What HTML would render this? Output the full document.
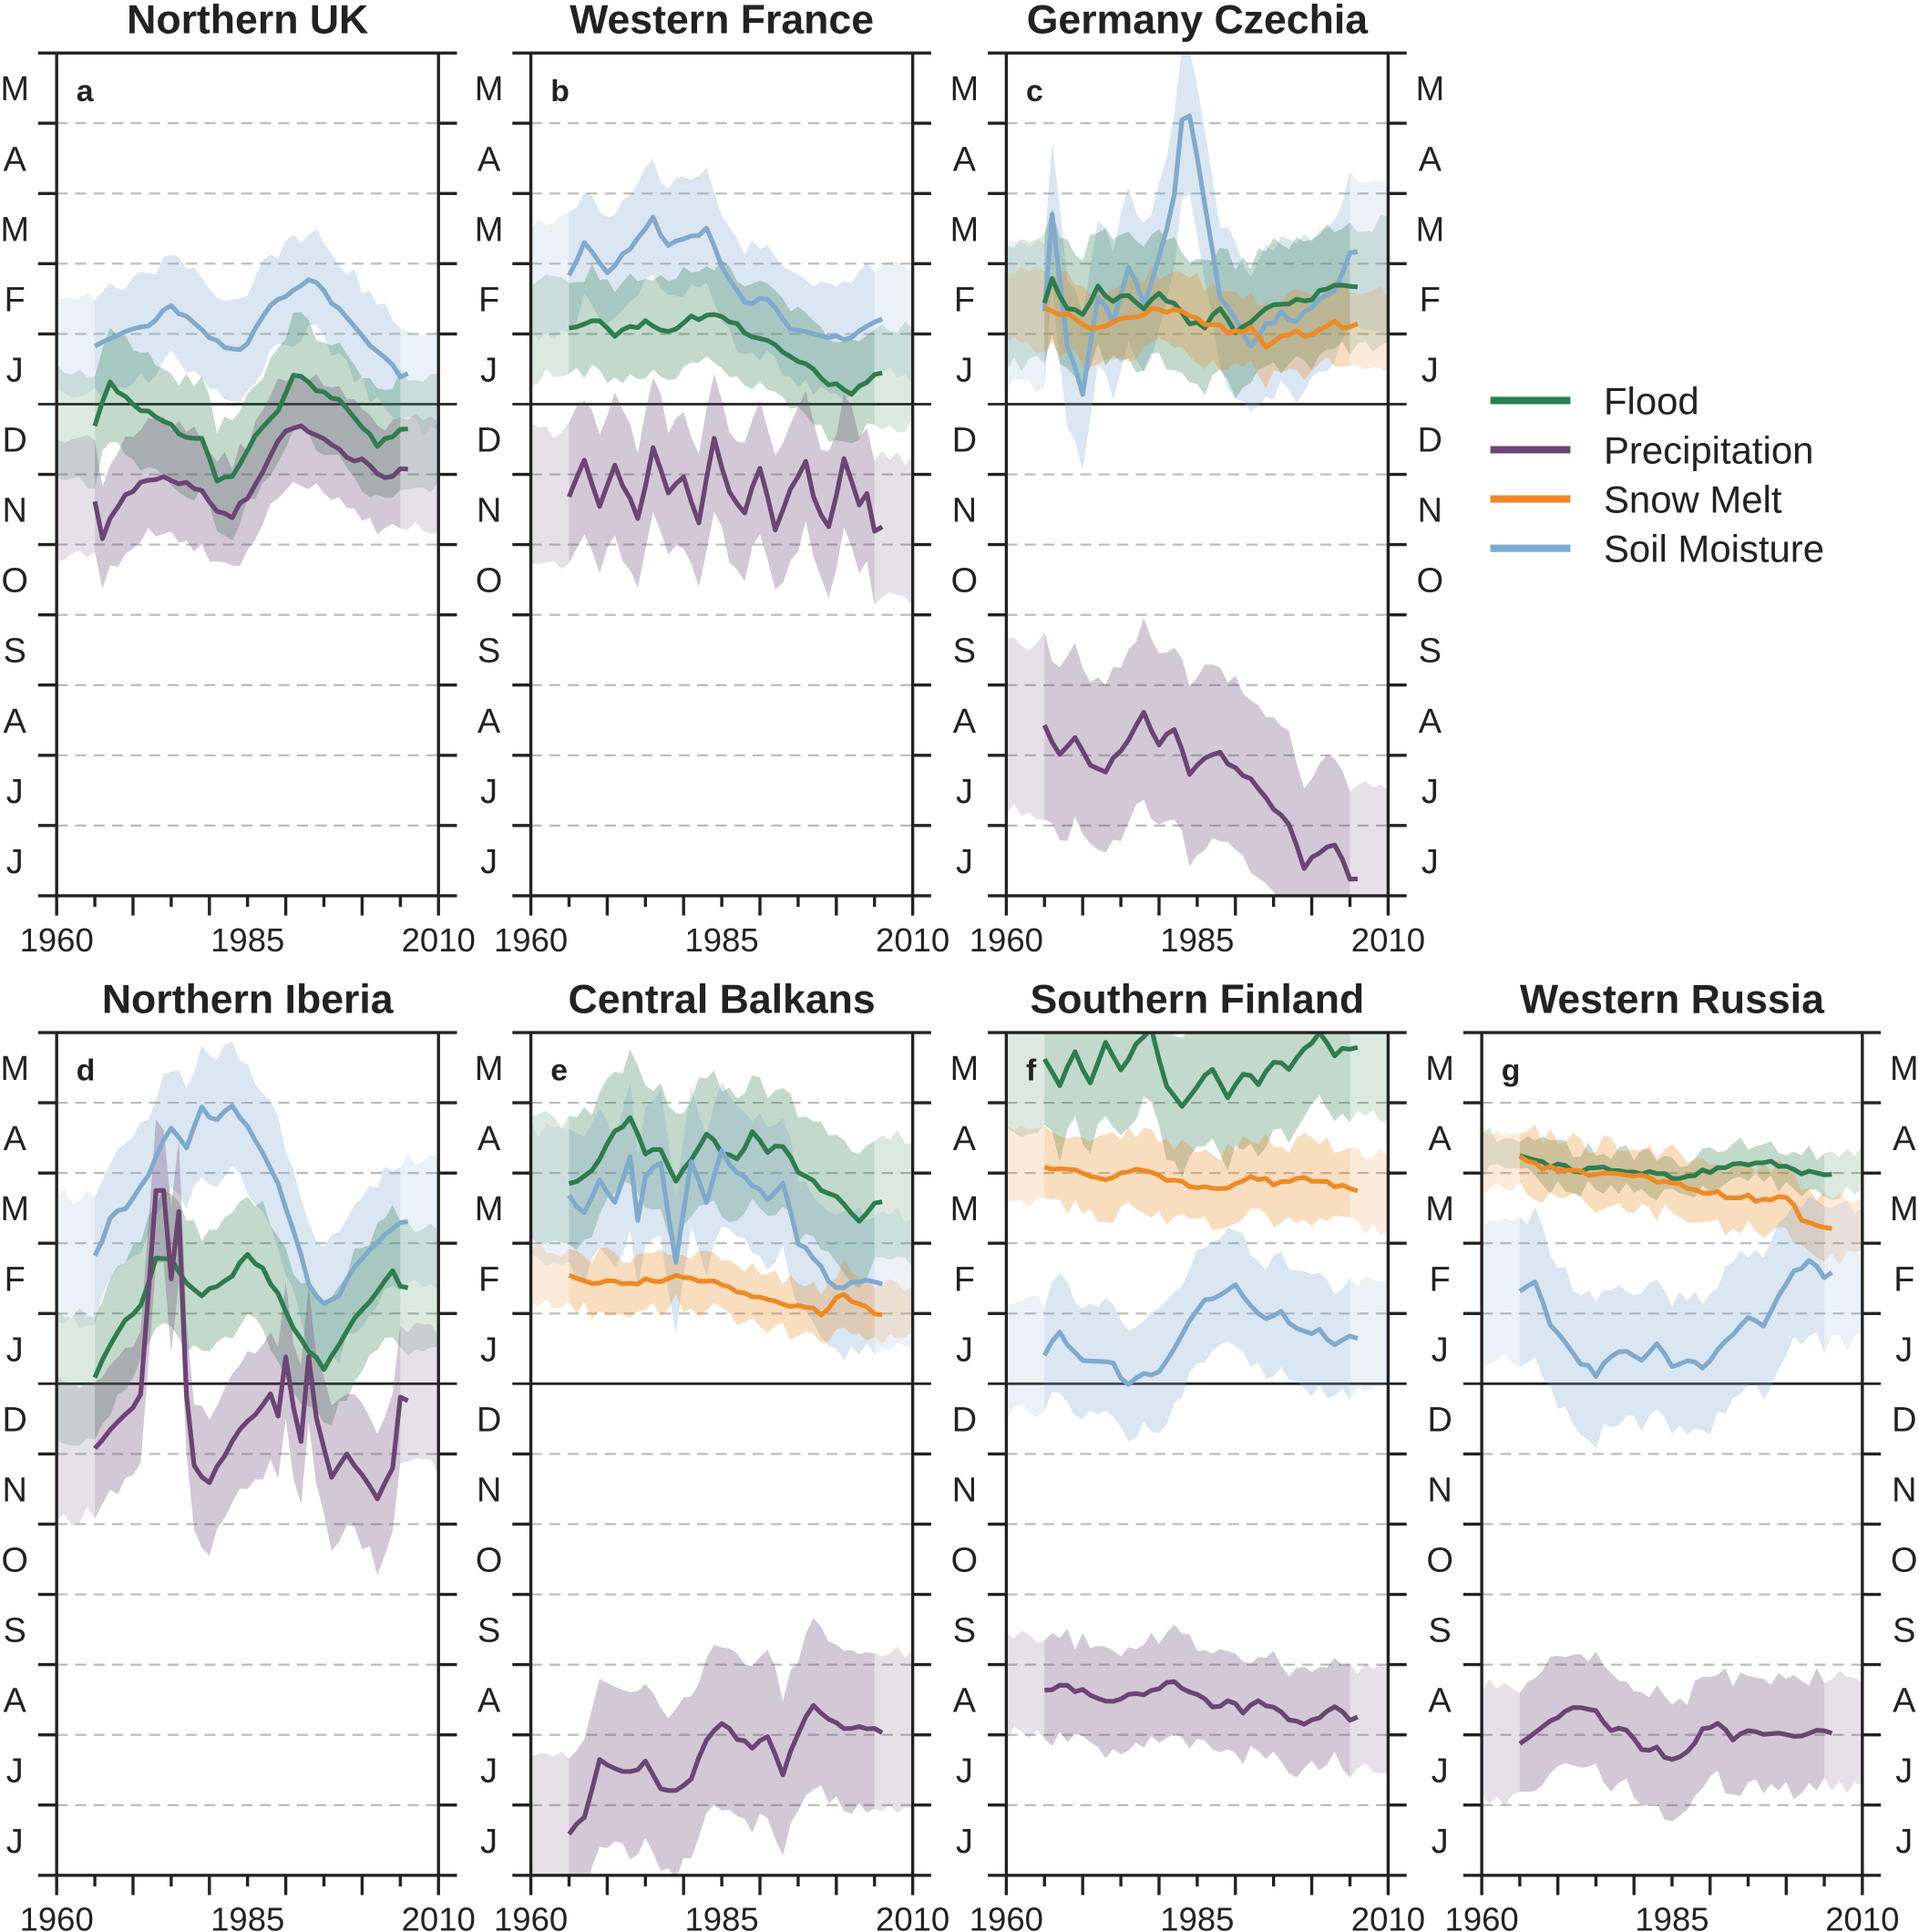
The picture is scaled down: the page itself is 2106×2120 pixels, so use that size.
<!DOCTYPE html>
<html><head><meta charset="utf-8"><style>
html,body{margin:0;padding:0;background:#fff}
svg{display:block}
text{font-family:"Liberation Sans",Arial,sans-serif;fill:#222}
</style></head><body>
<svg id="s" xmlns="http://www.w3.org/2000/svg" width="2106" height="2120" viewBox="0 0 1558 1568" preserveAspectRatio="none"></svg>
<script>
const S=document.getElementById('s');let h='';
const L=[46,431,817,1203],R=[356,741,1127,1512],T=[43,838],B=[727,1522];
const months=['M','A','M','F','J','D','N','O','S','A','J','J'];
const C={g:'#2e7d4f',p:'#6b4574',o:'#ee8a25',b:'#80aacd'};
let seed=7;function rnd(){seed=(seed*16807)%2147483647;return seed/2147483647-0.5;}
function interp(pts,yr){for(let i=0;i<pts.length-1;i++){if(yr<=pts[i+1][0]){const t=(yr-pts[i][0])/(pts[i+1][0]-pts[i][0]);return pts[i][1]+t*(pts[i+1][1]-pts[i][1]);}}return pts[pts.length-1][1];}
function panel(c,r,title,letter,rightLabels,series){
 const l=L[c],rr=R[c],t=T[r],b=B[r],bh=(b-t)/12;
 const X=y=>l+(y-1960)/50*(rr-l);
 h+=`<text x="${(l+rr)/2}" y="${t-16}" font-size="33" font-weight="bold" text-anchor="middle">${title}</text>`;
 h+=`<clipPath id="c${c}${r}"><rect x="${l}" y="${t}" width="${rr-l}" height="${b-t}"/></clipPath>`;
 for(let i=1;i<12;i++){const y=t+i*bh;
  if(i==5)h+=`<line x1="${l-15}" x2="${rr+15}" y1="${y}" y2="${y}" stroke="#222" stroke-width="2"/>`;
  else{h+=`<line x1="${l}" x2="${rr}" y1="${y}" y2="${y}" stroke="#bbb" stroke-width="1.6" stroke-dasharray="9,6"/>`;
  h+=`<line x1="${l-15}" x2="${l}" y1="${y}" y2="${y}" stroke="#222" stroke-width="2.5"/><line x1="${rr}" x2="${rr+15}" y1="${y}" y2="${y}" stroke="#222" stroke-width="2.5"/>`;}}
 let g=`<g clip-path="url(#c${c}${r})">`;
 for(const s of series){
  const [col,pts,bw]=s;const ys=[],up=[],dn=[];
  for(let y=1960;y<=2010;y++){const v=interp(pts,Math.min(Math.max(y,1965),2005))+rnd()*5;ys.push([X(y),v]);up.push([X(y),v-bw+rnd()*14]);dn.push([X(y),v+bw+rnd()*14]);}
  const poly=(a,bb)=>a.map(p=>p.join(',')).concat(bb.slice().reverse().map(p=>p.join(','))).join(' ');
  g+=`<polygon points="${poly(up,dn)}" fill="${C[col]}" opacity="0.17"/>`;
  g+=`<polygon points="${poly(up.slice(5,46),dn.slice(5,46))}" fill="${C[col]}" opacity="0.15"/>`;
  s.push(ys.slice(5,47));
 }
 for(const s of series){const col=s[0];const ys=s[3];
  g+=`<polyline points="${ys.map(p=>p[0].toFixed(1)+','+p[1].toFixed(1)).join(' ')}" fill="none" stroke="${C[col]}" stroke-width="3.8" stroke-linejoin="round"/>`;}
 g+='</g>';h+=g;
 h+=`<line x1="${l-15}" x2="${rr+15}" y1="${t}" y2="${t}" stroke="#222" stroke-width="2.5"/>`;
 h+=`<line x1="${l-15}" x2="${rr+15}" y1="${b}" y2="${b}" stroke="#222" stroke-width="2.5"/>`;
 h+=`<line x1="${l}" x2="${l}" y1="${t}" y2="${b+16}" stroke="#222" stroke-width="2.5"/><line x1="${rr}" x2="${rr}" y1="${t}" y2="${b+16}" stroke="#222" stroke-width="2.5"/>`;
 for(let y=1965;y<2010;y+=5){const x=X(y);h+=`<line x1="${x}" x2="${x}" y1="${b}" y2="${b+(y%10==0?16:9)}" stroke="#222" stroke-width="2.5"/>`;}
 for(const yr of [1960,1985,2010])h+=`<text x="${X(yr)}" y="${b+45}" font-size="27" text-anchor="middle">${yr}</text>`;
 months.forEach((m,i)=>{const y=t+(i+0.5)*bh+10;h+=`<text x="${l-34}" y="${y}" font-size="28" text-anchor="middle">${m}</text>`;
  if(rightLabels)h+=`<text x="${rr+34}" y="${y}" font-size="28" text-anchor="middle">${m}</text>`;});
 h+=`<text x="${l+16}" y="${t+39}" font-size="25" font-weight="bold">${letter}</text>`;
}
panel(0,0,'Northern UK','a',false,[
 ['b',[[1965,280],[1968,270],[1972,265],[1975,248],[1978,262],[1980,275],[1983,283],[1985,280],[1987,255],[1990,240],[1993,225],[1996,245],[1999,265],[2002,285],[2005,305]],40],
 ['g',[[1965,345],[1967,310],[1970,328],[1973,340],[1976,350],[1979,358],[1981,390],[1983,388],[1986,355],[1989,335],[1991,302],[1994,315],[1997,325],[2000,345],[2002,360],[2005,350]],45],
 ['p',[[1965,405],[1966,435],[1968,410],[1971,390],[1974,388],[1977,392],[1979,398],[1981,413],[1983,418],[1986,395],[1988,370],[1990,350],[1992,345],[1995,355],[1998,372],[2000,375],[2002,385],[2003,390],[2005,382]],45]]);
panel(1,0,'Western France','b',false,[
 ['b',[[1965,225],[1967,195],[1970,222],[1973,200],[1976,178],[1978,200],[1981,192],[1983,187],[1985,215],[1988,245],[1991,242],[1994,265],[1997,270],[2000,275],[2003,270],[2005,260]],45],
 ['g',[[1965,268],[1968,258],[1971,272],[1975,262],[1978,268],[1981,258],[1984,255],[1987,265],[1990,275],[1993,285],[1996,295],[1999,310],[2002,318],[2005,305]],40],
 ['p',[[1965,405],[1967,375],[1969,410],[1971,380],[1974,420],[1976,365],[1978,400],[1980,385],[1982,425],[1984,355],[1986,400],[1988,415],[1990,380],[1992,430],[1994,395],[1996,375],[1997,405],[1999,430],[2001,370],[2003,410],[2004,400],[2005,430]],55]]);
panel(2,0,'Germany Czechia','c',true,[
 ['b',[[1965,255],[1966,175],[1968,280],[1970,320],[1972,240],[1974,260],[1976,215],[1978,245],[1980,210],[1982,160],[1983,95],[1984,92],[1986,165],[1988,240],[1990,260],[1992,280],[1994,265],[1996,255],[1998,260],[2000,250],[2003,235],[2005,205]],60],
 ['g',[[1965,245],[1966,228],[1968,252],[1970,255],[1972,232],[1974,245],[1976,238],[1978,250],[1980,238],[1982,248],[1984,262],[1986,265],[1988,250],[1990,268],[1992,262],[1995,245],[1997,245],[2000,242],[2003,230],[2005,232]],50],
 ['o',[[1965,250],[1968,255],[1971,265],[1974,262],[1977,255],[1980,250],[1983,255],[1986,262],[1989,268],[1992,268],[1994,280],[1997,270],[2000,272],[2003,262],[2005,265]],30],
 ['p',[[1965,590],[1967,610],[1969,600],[1971,620],[1973,625],[1975,610],[1977,590],[1978,580],[1980,605],[1982,590],[1984,630],[1986,615],[1988,612],[1990,625],[1992,630],[1995,655],[1997,670],[1999,705],[2001,690],[2003,685],[2005,712]],70]]);
panel(0,1,'Northern Iberia','d',false,[
 ['b',[[1965,1020],[1967,990],[1969,980],[1971,965],[1973,940],[1975,915],[1977,930],[1979,900],[1981,910],[1983,895],[1985,915],[1987,935],[1989,960],[1991,1000],[1993,1040],[1995,1060],[1997,1050],[2000,1020],[2003,1000],[2005,990]],50],
 ['g',[[1965,1120],[1967,1090],[1969,1070],[1971,1060],[1973,1020],[1975,1020],[1977,1040],[1979,1050],[1982,1040],[1985,1020],[1987,1030],[1989,1050],[1991,1080],[1993,1095],[1995,1110],[1997,1090],[1999,1070],[2002,1050],[2004,1030],[2005,1045]],50],
 ['p',[[1965,1175],[1967,1160],[1969,1150],[1971,1130],[1972,1050],[1973,965],[1974,965],[1975,1040],[1976,985],[1977,1130],[1978,1190],[1980,1205],[1982,1180],[1984,1160],[1986,1150],[1988,1130],[1989,1150],[1990,1100],[1991,1140],[1992,1170],[1993,1100],[1994,1150],[1996,1200],[1998,1180],[2000,1195],[2002,1215],[2004,1190],[2005,1135]],55]]);
panel(1,1,'Central Balkans','e',false,[
 ['g',[[1965,960],[1967,955],[1969,940],[1971,920],[1973,905],[1975,935],[1977,935],[1979,960],[1981,940],[1983,920],[1985,935],[1987,940],[1989,920],[1991,935],[1993,930],[1995,950],[1997,960],[1999,970],[2001,975],[2003,990],[2005,975]],50],
 ['b',[[1965,970],[1967,985],[1969,960],[1971,975],[1973,940],[1974,990],[1975,955],[1977,945],[1979,1025],[1981,945],[1983,975],[1985,935],[1987,950],[1989,960],[1991,975],[1993,960],[1995,1010],[1997,1020],[1999,1040],[2001,1045],[2003,1040]],55],
 ['o',[[1965,1035],[1968,1040],[1971,1042],[1974,1040],[1977,1040],[1980,1035],[1983,1040],[1986,1045],[1989,1050],[1992,1055],[1995,1060],[1998,1065],[2001,1050],[2003,1060],[2005,1065]],22],
 ['p',[[1965,1490],[1967,1475],[1969,1430],[1971,1435],[1973,1440],[1975,1430],[1977,1450],[1979,1455],[1981,1445],[1983,1410],[1985,1400],[1987,1410],[1989,1420],[1991,1410],[1993,1440],[1995,1405],[1997,1385],[1999,1395],[2001,1405],[2003,1400],[2005,1405]],65]]);
panel(2,1,'Southern Finland','f',false,[
 ['g',[[1965,860],[1967,880],[1969,855],[1971,880],[1973,845],[1975,870],[1977,845],[1979,835],[1981,880],[1983,900],[1985,880],[1987,870],[1989,890],[1991,870],[1993,880],[1995,860],[1997,870],[1999,850],[2001,840],[2003,855],[2005,850]],55],
 ['o',[[1965,945],[1968,950],[1971,955],[1974,955],[1977,950],[1980,955],[1983,960],[1986,965],[1989,965],[1992,955],[1995,960],[1998,955],[2001,960],[2005,965]],30],
 ['b',[[1965,1100],[1967,1082],[1969,1100],[1972,1105],[1974,1108],[1976,1125],[1978,1115],[1980,1115],[1982,1095],[1984,1070],[1986,1055],[1988,1050],[1990,1045],[1992,1060],[1994,1070],[1996,1065],[1998,1080],[2001,1080],[2003,1090],[2005,1085]],45],
 ['p',[[1965,1370],[1968,1370],[1971,1375],[1974,1380],[1977,1375],[1980,1370],[1982,1365],[1985,1375],[1987,1385],[1989,1380],[1991,1390],[1993,1380],[1995,1385],[1997,1395],[1999,1400],[2001,1395],[2003,1385],[2005,1395]],40]]);
panel(3,1,'Western Russia','g',true,[
 ['g',[[1965,938],[1968,945],[1971,948],[1974,950],[1977,948],[1980,950],[1983,952],[1986,955],[1989,950],[1992,948],[1995,945],[1997,942],[2000,948],[2003,952],[2005,952]],15],
 ['o',[[1965,940],[1968,947],[1971,950],[1974,952],[1977,952],[1980,955],[1983,958],[1986,960],[1989,968],[1992,970],[1995,970],[1997,975],[2000,970],[2002,990],[2005,995]],25],
 ['b',[[1965,1050],[1967,1040],[1969,1075],[1971,1090],[1973,1105],[1975,1115],[1977,1100],[1979,1095],[1981,1105],[1983,1090],[1985,1110],[1987,1105],[1989,1110],[1991,1095],[1993,1085],[1995,1070],[1997,1075],[1999,1050],[2001,1030],[2003,1025],[2005,1035]],55],
 ['p',[[1965,1415],[1968,1400],[1971,1390],[1973,1385],[1975,1390],[1977,1405],[1979,1405],[1981,1420],[1983,1420],[1985,1430],[1987,1420],[1989,1405],[1991,1400],[1993,1410],[1995,1405],[1997,1410],[1999,1405],[2001,1410],[2003,1405],[2005,1405]],45]]);
[['g','Flood'],['p','Precipitation'],['o','Snow Melt'],['b','Soil Moisture']].forEach((e,i)=>{const y=325+i*40;
 h+=`<line x1="1210" x2="1275" y1="${y}" y2="${y}" stroke="${C[e[0]]}" stroke-width="6"/><text x="1302" y="${y+11}" font-size="31">${e[1]}</text>`;});
S.innerHTML=h;
</script>
</body></html>
